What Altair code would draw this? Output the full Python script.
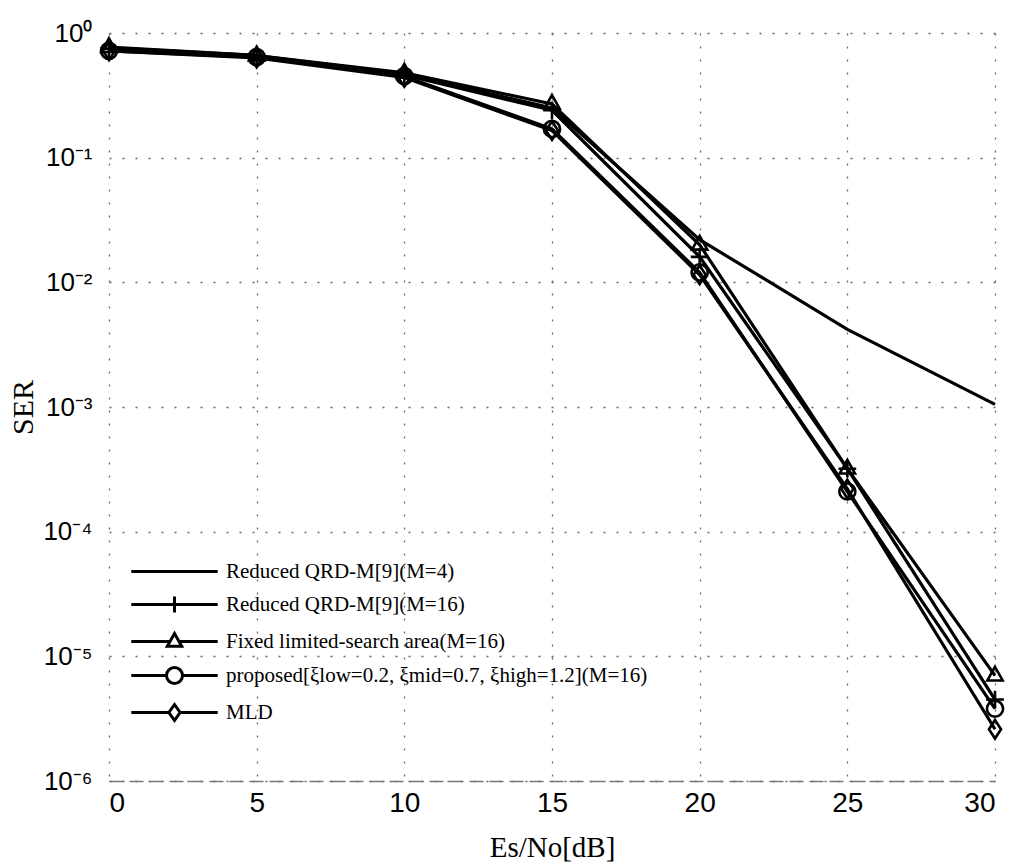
import altair as alt
import pandas as pd

X = [0, 5, 10, 15, 20, 25, 30]
SERIES = [
    "Reduced QRD-M[9](M=4)",
    "Reduced QRD-M[9](M=16)",
    "Fixed limited-search area(M=16)",
    "proposed[ξlow=0.2, ξmid=0.7, ξhigh=1.2](M=16)",
    "MLD",
]
M4 = [0.76, 0.66, 0.47, 0.25, 0.022, 0.0042, 0.00105]
M16 = [0.75, 0.65, 0.46, 0.24, 0.016, 3.2e-4, 4.5e-6]
FIXED = [0.77, 0.66, 0.48, 0.27, 0.020, 3.2e-4, 7.0e-6]
PROPOSED = [0.72, 0.64, 0.45, 0.17, 0.012, 2.1e-4, 3.8e-6]
MLD = [0.72, 0.63, 0.44, 0.165, 0.0115, 2.2e-4, 2.6e-6]
VALUES = [M4, M16, FIXED, PROPOSED, MLD]

X_TICKS = [0, 5, 10, 15, 20, 25, 30]
Y_TICKS = [1e-6, 1e-5, 1e-4, 1e-3, 1e-2, 1e-1, 1]
Y_LABELS = ["10⁻⁶", "10⁻⁵", "10⁻⁴", "10⁻³", "10⁻²", "10⁻¹", "10⁰"]

rows = []
for name, vals in zip(SERIES, VALUES):
    for x, v in zip(X, vals):
        rows.append({"series": name, "x": x, "ser": v})
df = pd.DataFrame(rows)

# marker shapes (unit box) for plot
PLOT_SHAPES = [
    "M-1.1,0H1.1M0,-1.1V1.1",
    "M0,-1.1L0.95,0.6L-0.95,0.6Z",
    "M1,0A1,1,0,1,1,-1,0A1,1,0,1,1,1,0Z",
    "M0,-1.15L0.75,0L0,1.15L-0.75,0Z",
]
# legend shapes: line through plus marker
L = 5.4
LEGEND_SHAPES = [
    f"M-{L},0H{L}",
    f"M-{L},0H{L}M0,-1V1",
    f"M-{L},0H-0.6M0.6,0H{L}M0,-1L0.9,0.6L-0.9,0.6Z",
    f"M-{L},0H-1M1,0H{L}M1,0A1,1,0,1,1,-1,0A1,1,0,1,1,1,0Z",
    f"M-{L},0H-0.7M0.7,0H{L}M0,-1L0.7,0L0,1L-0.7,0Z",
]

label_expr = "".join(
    f"datum.value >= {v*0.99} ? '{lab}' : " for v, lab in zip(Y_TICKS[::-1], Y_LABELS[::-1])
) + "''"

xenc = alt.X(
    "x:Q",
    scale=alt.Scale(domain=[0, 30], nice=False),
    axis=alt.Axis(
        values=X_TICKS, title="Es/No[dB]", grid=True, tickSize=0,
        labelFont="Liberation Sans", labelFontSize=28, labelPadding=8,
        titleFont="Liberation Serif", titleFontSize=29, titleFontWeight="normal",
        titlePadding=16, domain=True, domainColor="#777", domainWidth=1.5,
        domainDash=[14, 6], labelColor="black", titleColor="black",
    ),
)
yenc = alt.Y(
    "ser:Q",
    scale=alt.Scale(type="log", domain=[1e-6, 1], nice=False),
    axis=alt.Axis(
        values=Y_TICKS, labelExpr=label_expr, title="SER", grid=True, tickSize=0,
        labelFont="Liberation Sans", labelFontSize=26, labelPadding=17,
        titleFont="Liberation Serif", titleFontSize=30, titleFontWeight="normal",
        titlePadding=4, domain=False, labelColor="black", titleColor="black",
    ),
)

base = alt.Chart(df)

lines = base.mark_line(color="black", strokeWidth=3.2).encode(
    x=xenc, y=yenc, detail="series:N"
)

points = base.transform_filter(
    alt.datum.series != SERIES[0]
).mark_point(filled=False, color="black", strokeWidth=2.6, size=260, opacity=1).encode(
    x=alt.X("x:Q"),
    y=alt.Y("ser:Q"),
    shape=alt.Shape(
        "series:N",
        scale=alt.Scale(domain=SERIES[1:], range=PLOT_SHAPES),
        legend=None,
    ),
)

legend_layer = base.mark_point(filled=False, color="black", opacity=0, size=256).encode(
    x=alt.X("x:Q"),
    y=alt.Y("ser:Q"),
    shape=alt.Shape(
        "series:N",
        scale=alt.Scale(domain=SERIES, range=LEGEND_SHAPES),
        legend=alt.Legend(
            title=None, orient="none", legendX=55, legendY=528,
            symbolSize=256, symbolStrokeColor="black", symbolFillColor="transparent",
            symbolStrokeWidth=3.0, symbolOpacity=1, labelOffset=41,
            labelFont="Liberation Serif", labelFontSize=21, labelColor="black",
            rowPadding=8, labelLimit=800,
        ),
    ),
)

chart = alt.layer(lines, points, legend_layer).resolve_scale(
    shape="independent"
).properties(
    width=886, height=748,
    autosize=alt.AutoSizeParams(type="none"),
    padding={"left": 109, "top": 33, "right": 17, "bottom": 87},
    background="white",
).configure_axis(
    gridColor="#444", gridDash=[2, 11], gridWidth=1.3, gridOpacity=0.8,
).configure_view(stroke=None)

chart.save("out.html", embed_options={"renderer": "svg", "actions": False})
